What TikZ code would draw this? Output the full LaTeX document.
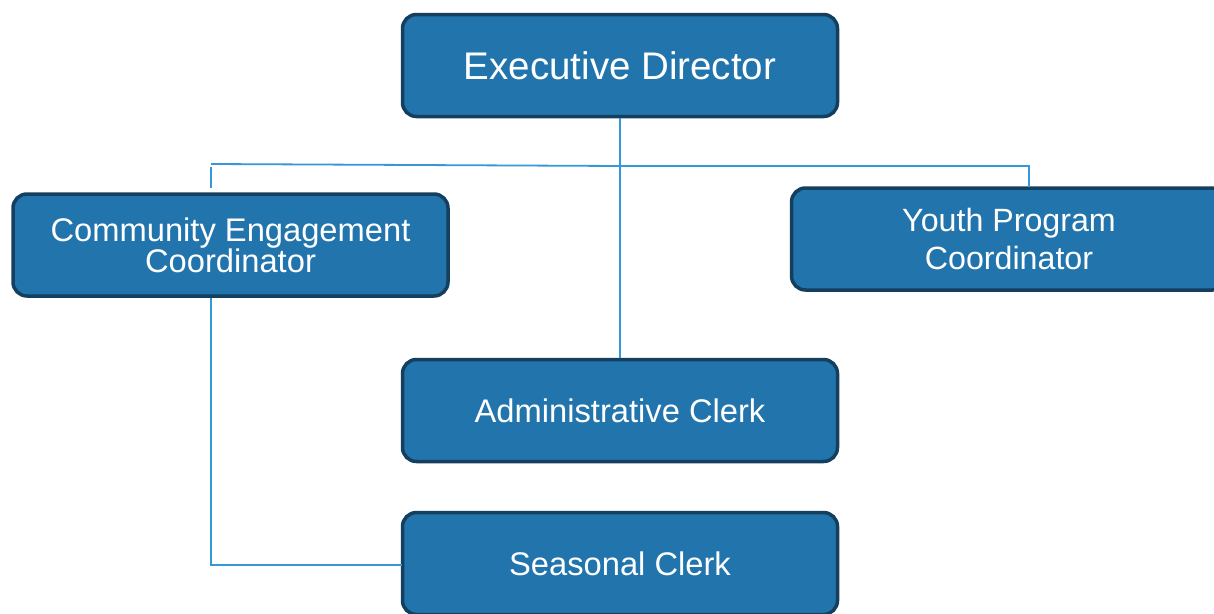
\documentclass[tikz,border=0pt]{standalone}
\usepackage{fontspec}
\setmainfont{Liberation Sans}
\definecolor{boxfill}{HTML}{2274AD}
\definecolor{boxedge}{HTML}{153F5F}
\definecolor{linkcol}{HTML}{3498DB}
\begin{document}
\begin{tikzpicture}[x=1pt,y=-1pt,
  orgbox/.style={draw=boxedge, fill=boxfill, line width=3.5pt, rounded corners=14pt,
    minimum width=435pt, minimum height=102pt, text=white, align=center, inner sep=0pt},
  link/.style={draw=linkcol, line width=1.8pt}]
\clip (0,0) rectangle (1214,613);
\fill[white] (0,0) rectangle (1214,613);
\node[orgbox, font=\fontsize{38.5}{40}\selectfont] (exec) at (620,65.5) {Executive Director};
\node[orgbox, font=\fontsize{32.7}{31}\selectfont] (cec) at (230.5,245) {Community Engagement\\Coordinator};
\node[orgbox, font=\fontsize{32.2}{38.5}\selectfont] (youth) at (1009,239) {Youth Program\\Coordinator};
\node[orgbox, font=\fontsize{32.7}{34}\selectfont] (admin) at (620,410.5) {Administrative Clerk};
\node[orgbox, font=\fontsize{32.7}{34}\selectfont] (seasonal) at (620,563.5) {Seasonal Clerk};
\coordinate (busL) at (211,164);
\coordinate (busM) at (620,166);
\coordinate (busR) at (1029,166);
\coordinate (tickLtop) at (211,167);
\coordinate (tickLbot) at (211,188);
\coordinate (tickRbot) at (1029,187);
\coordinate (cecOut) at (211,298);
\coordinate (bend) at (211,565);
\coordinate (seasIn) at (402,565);
\draw[link] (exec.south) -- (admin.north);
\draw[link] (busL) -- (busM) -- (busR) -- (tickRbot);
\draw[link] (tickLtop) -- (tickLbot);
\draw[link] (cecOut) -- (bend) -- (seasIn);
\end{tikzpicture}
\end{document}
